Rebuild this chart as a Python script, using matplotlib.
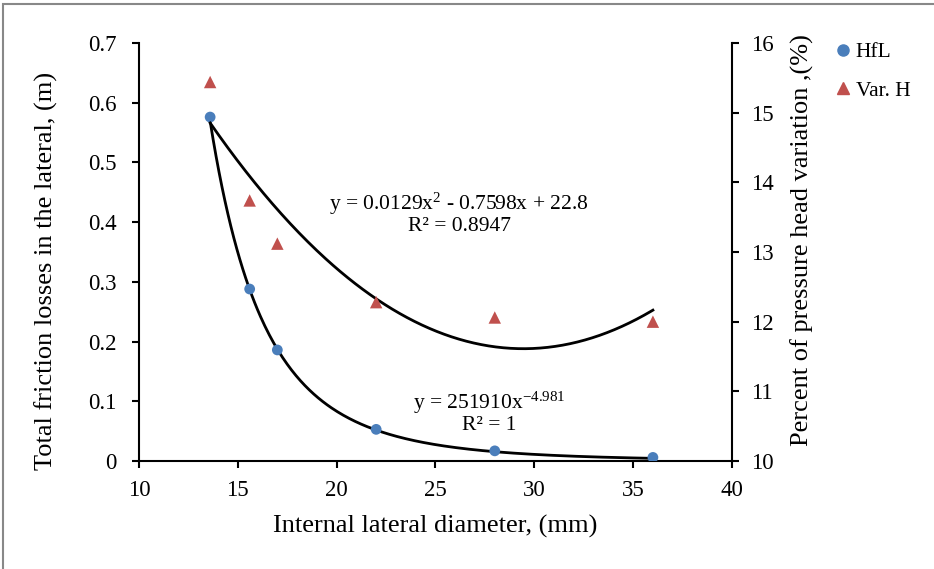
import numpy as np
import matplotlib.pyplot as plt
from matplotlib.lines import Line2D
from matplotlib.patches import Rectangle

plt.rcParams['font.family'] = ['Liberation Serif', 'DejaVu Serif']
plt.rcParams['mathtext.fontset'] = 'custom'
plt.rcParams['mathtext.rm'] = 'Liberation Serif'
plt.rcParams['mathtext.it'] = 'Liberation Serif:italic'

# internal lateral diameter (mm)
diameter = [13.6, 15.6, 17.0, 22.0, 28.0, 36.0]
# total friction losses (m)
hfl = [0.576, 0.288, 0.186, 0.053, 0.017, 0.006]
# pressure head variation (%)
var_h = [15.44, 13.74, 13.12, 12.28, 12.06, 12.0]

# trendline coefficients as printed on the chart
pow_a, pow_b = 251910, -4.981
poly_c = [0.0129, -0.7598, 22.8]

fig = plt.figure(figsize=(9.34, 5.69), dpi=100)
ax = fig.add_axes([0.1488, 0.1898, 0.6349, 0.7346])
ax2 = ax.twinx()

blue = '#4a7ebb'
red = '#c0504d'

# trend lines
xs = np.linspace(min(diameter), max(diameter), 300)
ax.plot(xs, pow_a * xs ** pow_b, color='black', lw=2, zorder=3)
ax2.plot(xs, np.polyval(poly_c, xs), color='black', lw=2, zorder=3)

ax.scatter(diameter, hfl, color=blue, s=60, zorder=4, edgecolors='none')
ax2.scatter(diameter, var_h, color=red, marker='^', s=80, zorder=4, edgecolors='none')

ax.set_xlim(10, 40)
ax.set_ylim(0, 0.7)
ax2.set_ylim(10, 16)
ax.set_xticks(range(10, 41, 5))
ax.set_yticks(np.arange(0, 0.71, 0.1))
ax.set_yticklabels(['0', '0.1', '0.2', '0.3', '0.4', '0.5', '0.6', '0.7'])
ax2.set_yticks(range(10, 17))

for a in (ax, ax2):
    a.spines['top'].set_visible(False)
    for s in a.spines.values():
        s.set_linewidth(1.5)
    a.tick_params(labelsize=16.5, width=1.5, length=5, direction='out')
ax.tick_params(axis='y', pad=11)
ax.tick_params(axis='x', pad=9)
ax2.tick_params(axis='y', pad=9)
ax.spines['right'].set_visible(False)
ax2.spines['left'].set_visible(False)
ax2.spines['bottom'].set_visible(False)

ax.set_xlabel('Internal lateral diameter, (mm)', fontsize=19, labelpad=10)
ax.set_ylabel('Total friction losses in the lateral, (m)', fontsize=19, labelpad=22)
ax2.set_ylabel('Percent of pressure head variation ,(%)', fontsize=19, labelpad=12)
ax.yaxis.label.set_y(0.4545)
ax2.yaxis.label.set_y(0.529)

ax.text(26.2, 0.414, 'y = 0.0129x$^{2}$ - 0.7598x + 22.8\nR² = 0.8947',
        fontsize=15.5, ha='center', va='center', linespacing=1.0)
ax.text(27.7, 0.082, 'y = 251910x$^{\\mathrm{-4.981}}$\nR² = 1',
        fontsize=15.5, ha='center', va='center', linespacing=1.0)

handles = [Line2D([], [], marker='o', color=blue, ls='none', markersize=8),
           Line2D([], [], marker='^', color=red, ls='none', markersize=8)]
fig.legend(handles, ['HfL', 'Var. H'], loc='upper left', bbox_to_anchor=(0.87, 0.96),
           frameon=False, fontsize=15.5, handletextpad=0.1, handlelength=1.0,
           labelspacing=0.85)

fig.patches.append(Rectangle((0.0032, -0.01), 1.1, 1.003, transform=fig.transFigure,
                             fill=False, edgecolor='#888888', lw=1.5))

fig.savefig('out.png', dpi=100)
